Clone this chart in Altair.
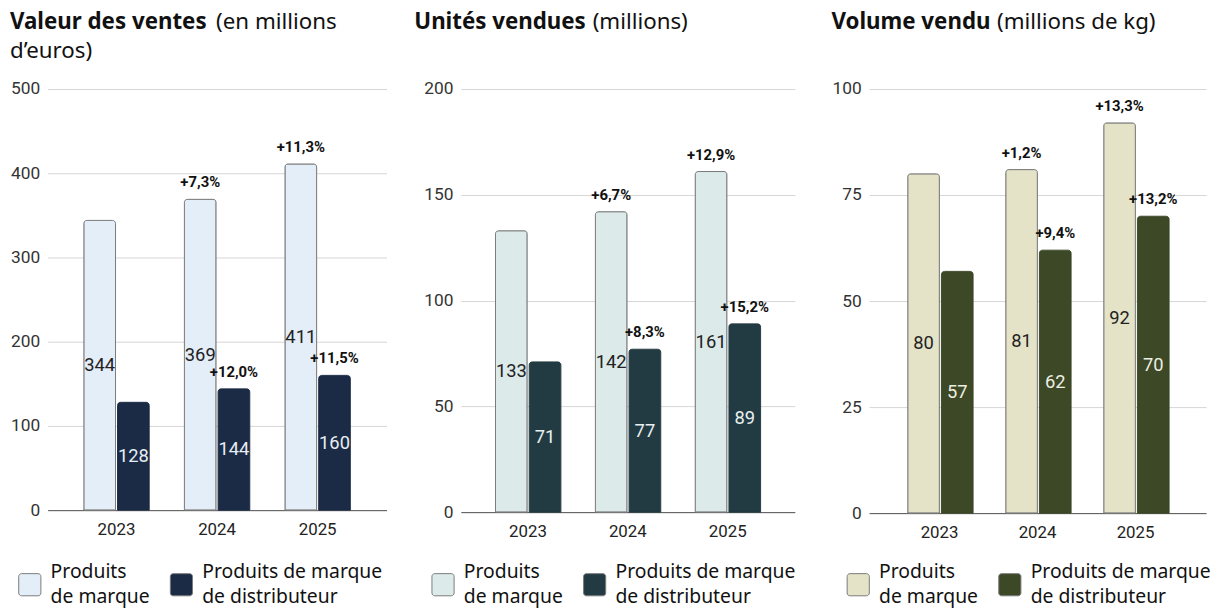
import altair as alt
import pandas as pd

years = ["2023", "2024", "2025"]
series = ["Produits de marque", "Produits de marque de distributeur"]

# Valeur des ventes (en millions d'euros)
val_brand = [344, 369, 411]
val_store = [128, 144, 160]
pct_val_brand = ["", "+7,3%", "+11,3%"]
pct_val_store = ["", "+12,0%", "+11,5%"]

# Unités vendues (millions)
units_brand = [133, 142, 161]
units_store = [71, 77, 89]
pct_units_brand = ["", "+6,7%", "+12,9%"]
pct_units_store = ["", "+8,3%", "+15,2%"]

# Volume vendu (millions de kg)
vol_brand = [80, 81, 92]
vol_store = [57, 62, 70]
pct_vol_brand = ["", "+1,2%", "+13,3%"]
pct_vol_store = ["", "+9,4%", "+13,2%"]

FONT = "Roboto"
TFONT = "Noto Sans"
ROUND_SQ = ("M -0.75 -1 L 0.75 -1 A 0.25 0.25 0 0 1 1 -0.75 L 1 0.75 "
            "A 0.25 0.25 0 0 1 0.75 1 L -0.75 1 A 0.25 0.25 0 0 1 -1 0.75 "
            "L -1 -0.75 A 0.25 0.25 0 0 1 -0.75 -1 Z")


def panel(brand, store, pb, ps, ymax, ystep, colors, text_colors, width, height,
          title_bold, title_rest, title_line2, title_x, rest_x, title_y,
          legend_x, legend_y, po):
    df = pd.DataFrame({
        "year": years * 2,
        "series": [series[0]] * 3 + [series[1]] * 3,
        "value": brand + store,
        "pct": pb + ps,
    })
    x = alt.X("year:N", title=None, sort=years,
              scale=alt.Scale(paddingInner=0.35, paddingOuter=po),
              axis=alt.Axis(labelAngle=0, ticks=False, domainColor="#555", domainWidth=1,
                            labelFontSize=17, labelPadding=12, labelColor="#222",
                            labelFont=FONT, grid=False))
    xo = alt.XOffset("series:N", sort=series, scale=alt.Scale(paddingInner=0.06))
    y = alt.Y("value:Q", title=None, scale=alt.Scale(domain=[0, ymax], nice=False),
              axis=alt.Axis(values=list(range(0, ymax + 1, ystep)), domain=False, ticks=False,
                            labelFontSize=17.5, labelColor="#333", labelPadding=8,
                            gridColor="#d6d6d6", labelFont=FONT))
    color = alt.Color(
        "series:N",
        scale=alt.Scale(domain=series, range=colors),
        legend=alt.Legend(
            title=None, orient="none", legendX=legend_x, legendY=legend_y,
            direction="horizontal", symbolType=ROUND_SQ, symbolSize=500,
            symbolStrokeColor="#7a7a7a", symbolStrokeWidth=1, symbolOpacity=1,
            labelFontSize=19.5, labelFont=TFONT, labelColor="#111", labelLimit=300,
            labelOffset=9, columnPadding=18, padding=0, labelBaseline="line-bottom",
            labelExpr="datum.label == 'Produits de marque' ? ['Produits', 'de marque'] : ['Produits de marque', 'de distributeur']",
        ),
    )
    is_brand = alt.datum.series == series[0]
    bars = alt.Chart(df).mark_bar(
        cornerRadiusTopLeft=3, cornerRadiusTopRight=3, strokeWidth=1
    ).encode(
        x=x, xOffset=xo, y=y, color=color,
        stroke=alt.condition(is_brand, alt.value("#7a7a7a"), alt.value(colors[1])),
    )
    mid = alt.Chart(df).transform_calculate(mid="datum.value / 2").mark_text(
        fontSize=18.5, font=FONT
    ).encode(
        x=x, xOffset=xo, y=alt.Y("mid:Q", title=None), text="value:Q",
        color=alt.condition(is_brand, alt.value(text_colors[0]), alt.value(text_colors[1])),
    )
    pct = alt.Chart(df).transform_filter("datum.pct != ''").mark_text(
        fontSize=15, fontWeight="bold", font=FONT, dy=-12, baseline="alphabetic", color="#111"
    ).encode(x=x, xOffset=xo, y=alt.Y("value:Q", title=None), text="pct:N")

    layers = [bars, mid, pct]
    tb = alt.Chart(pd.DataFrame({"t": [title_bold]})).mark_text(
        align="left", baseline="middle", fontSize=22.5, fontWeight="bold", font=TFONT, color="#111"
    ).encode(x=alt.value(title_x), y=alt.value(title_y), text="t:N")
    tr = alt.Chart(pd.DataFrame({"t": [title_rest]})).mark_text(
        align="left", baseline="middle", fontSize=22.5, font=TFONT, color="#111"
    ).encode(x=alt.value(rest_x), y=alt.value(title_y), text="t:N")
    layers += [tb, tr]
    if title_line2:
        t2 = alt.Chart(pd.DataFrame({"t": [title_line2]})).mark_text(
            align="left", baseline="middle", fontSize=22.5, font=TFONT, color="#111"
        ).encode(x=alt.value(title_x), y=alt.value(title_y + 30), text="t:N")
        layers.append(t2)
    return alt.layer(*layers).properties(width=width, height=height)


p1 = panel(val_brand, val_store, pct_val_brand, pct_val_store, 500, 100,
           ["#e4eef9", "#1b2b45"], ["#222222", "#e8eef5"], 342, 425,
           "Valeur des ventes", "(en millions", "d\u2019euros)", -38, 170, -68,
           -30, 488, 0.36)
p2 = panel(units_brand, units_store, pct_units_brand, pct_units_store, 200, 50,
           ["#dceaea", "#223b42"], ["#222222", "#e8f0f0"], 337, 427,
           "Unités vendues", "(millions)", None, -47, 133, -68,
           -30, 488, 0.347)
p3 = panel(vol_brand, vol_store, pct_vol_brand, pct_vol_store, 100, 25,
           ["#e4e3c8", "#3c4826"], ["#222222", "#eeeee2"], 340, 428,
           "Volume vendu", "(millions de kg)", None, -38, 129, -68,
           -23, 488, 0.394)

chart = alt.hconcat(p1, p2, p3, spacing=75, bounds="flush").resolve_scale(
    color="independent"
).properties(
    padding={"left": 2, "top": 0, "right": 0, "bottom": 0}
).configure(
    style={"guide-label": {"lineHeight": 25}}
).configure_view(stroke=None)

chart.save("out.html", embed_options={"renderer": "svg", "actions": False})
